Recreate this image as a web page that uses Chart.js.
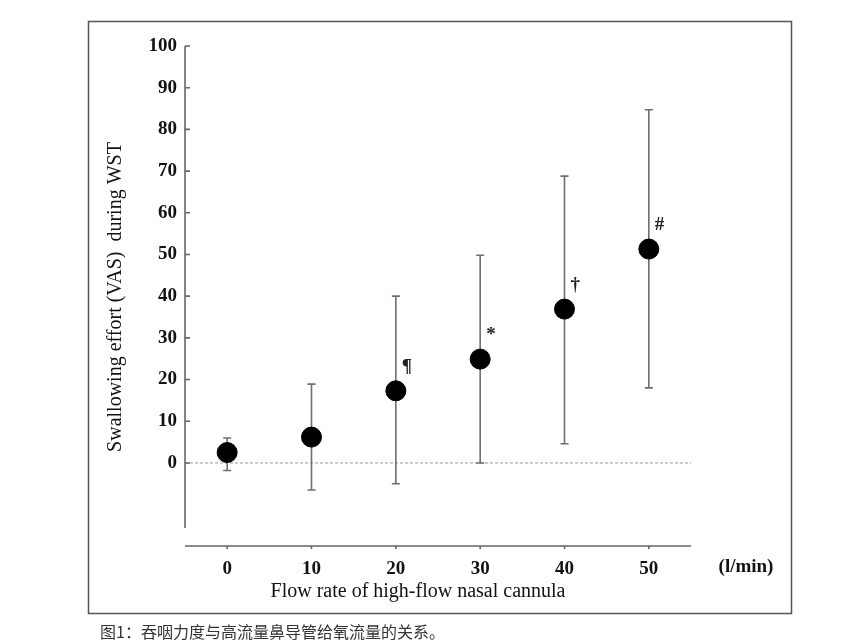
<!DOCTYPE html>
<html>
<head>
<meta charset="utf-8">
<script src="https://cdn.jsdelivr.net/npm/chart.js@4.4.1/dist/chart.umd.min.js"></script>
<style>
	body { margin: 0; background: #fff; }
	#wrap { width: 865px; height: 642px; }
</style>
</head>
<body>
<div id="wrap"><canvas id="myChart" width="865" height="642"></canvas></div>
<script>
// flow rate (l/min) vs swallowing effort (VAS), mean with error range
var flowRates = [0, 10, 20, 30, 40, 50];
var vasMean   = [2.5, 6.2, 17.3, 24.9, 36.9, 51.3];
var vasLower  = [-1.8, -6.5, -5.0, 0.0, 4.6, 18.0];
var vasUpper  = [6.0, 18.9, 40.0, 49.8, 68.8, 84.7];
var sigMarks  = ['', '', '¶', '*', '†', '#'];
var xTicks = [0, 10, 20, 30, 40, 50];
var yTicks = [0, 10, 20, 30, 40, 50, 60, 70, 80, 90, 100];

var serif = '"Liberation Serif", "DejaVu Serif", serif';

var extras = {
	id: 'extras',
	beforeDatasetsDraw: function(chart){
		var c = chart.ctx, x = chart.scales.x, y = chart.scales.y;
		var area = chart.chartArea;
		c.save();
		// dashed zero line
		c.strokeStyle = '#999';
		c.lineWidth = 1;
		c.setLineDash([3, 2]);
		c.beginPath();
		c.moveTo(area.left, y.getPixelForValue(0));
		c.lineTo(area.right, y.getPixelForValue(0));
		c.stroke();
		c.setLineDash([]);
		// error bars
		c.strokeStyle = '#6e6e6e';
		c.lineWidth = 1.6;
		for (var i = 0; i < flowRates.length; i++) {
			var px = x.getPixelForValue(flowRates[i]);
			var lo = y.getPixelForValue(vasLower[i]);
			var hi = y.getPixelForValue(vasUpper[i]);
			c.beginPath();
			c.moveTo(px, lo); c.lineTo(px, hi);
			c.moveTo(px - 4, lo); c.lineTo(px + 4, lo);
			c.moveTo(px - 4, hi); c.lineTo(px + 4, hi);
			c.stroke();
		}
		c.restore();
	},
	afterDraw: function(chart){
		var c = chart.ctx, x = chart.scales.x, y = chart.scales.y;
		var area = chart.chartArea;
		c.save();
		// frame
		c.strokeStyle = '#555';
		c.lineWidth = 1.5;
		c.strokeRect(88.5, 21.5, 703, 592);
		// y axis with inward ticks
		c.strokeStyle = '#666';
		c.lineWidth = 1.6;
		c.beginPath();
		c.moveTo(area.left, area.top);
		c.lineTo(area.left, area.bottom);
		yTicks.forEach(function(v){
			var py = y.getPixelForValue(v);
			c.moveTo(area.left, py); c.lineTo(area.left + 5, py);
		});
		c.stroke();
		// x axis, set below the plot, ticks pointing down
		var axY = area.bottom + 18;
		c.beginPath();
		c.moveTo(area.left, axY);
		c.lineTo(area.right, axY);
		xTicks.forEach(function(v){
			var px = x.getPixelForValue(v);
			c.moveTo(px, axY); c.lineTo(px, axY + 3);
		});
		c.stroke();
		// significance marks
		c.fillStyle = '#222';
		c.font = 'bold 19px ' + serif;
		c.textAlign = 'left';
		c.textBaseline = 'middle';
		for (var i = 0; i < flowRates.length; i++) {
			if (!sigMarks[i]) continue;
			c.fillText(sigMarks[i], x.getPixelForValue(flowRates[i]) + 6, y.getPixelForValue(vasMean[i]) - 24);
		}
		// axis titles
		c.fillStyle = '#111';
		c.textAlign = 'center';
		c.font = '20px ' + serif;
		c.fillText('Flow rate of high-flow nasal cannula', 418, 592);
		c.font = 'bold 19px ' + serif;
		c.fillText('(l/min)', 746, 567);
		c.save();
		c.translate(116, 297);
		c.rotate(-Math.PI / 2);
		c.font = '20px ' + serif;
		c.fillText('Swallowing effort (VAS)  during WST', 0, 0);
		c.restore();
		// caption
		c.fillStyle = '#333';
		c.textAlign = 'left';
		c.font = '16px "Noto Sans CJK SC", sans-serif';
		c.fillText('图1：吞咽力度与高流量鼻导管给氧流量的关系。', 100, 632);
		c.restore();
	}
};

var ctx = document.getElementById('myChart');
var myChart = new Chart(ctx, {
	type: 'scatter',
	data: {
		datasets: [{
			data: flowRates.map(function(f, i){ return { x: f, y: vasMean[i] }; }),
			backgroundColor: '#000',
			borderColor: '#000',
			pointRadius: 10,
			pointHoverRadius: 10
		}]
	},
	options: {
		responsive: false,
		animation: false,
		events: [],
		layout: { padding: { left: 145, right: 174, top: 46, bottom: 54 } },
		plugins: { legend: { display: false }, tooltip: { enabled: false } },
		scales: {
			x: {
				type: 'linear', min: -5, max: 55,
				grid: { display: false, drawTicks: false },
				border: { display: false },
				afterBuildTicks: function(s){ s.ticks = xTicks.map(function(v){ return { value: v }; }); },
				afterFit: function(s){ s.height = 60; },
				ticks: { padding: 30, color: '#111', font: { family: serif, size: 19, weight: 'bold' } }
			},
			y: {
				min: -15.6, max: 100,
				grid: { display: false, drawTicks: false },
				border: { display: false },
				afterBuildTicks: function(s){ s.ticks = yTicks.map(function(v){ return { value: v }; }); },
				afterFit: function(s){ s.width = 40; },
				ticks: { padding: 8, color: '#111', font: { family: serif, size: 19, weight: 'bold' } }
			}
		}
	},
	plugins: [extras]
});
</script>
</body>
</html>
